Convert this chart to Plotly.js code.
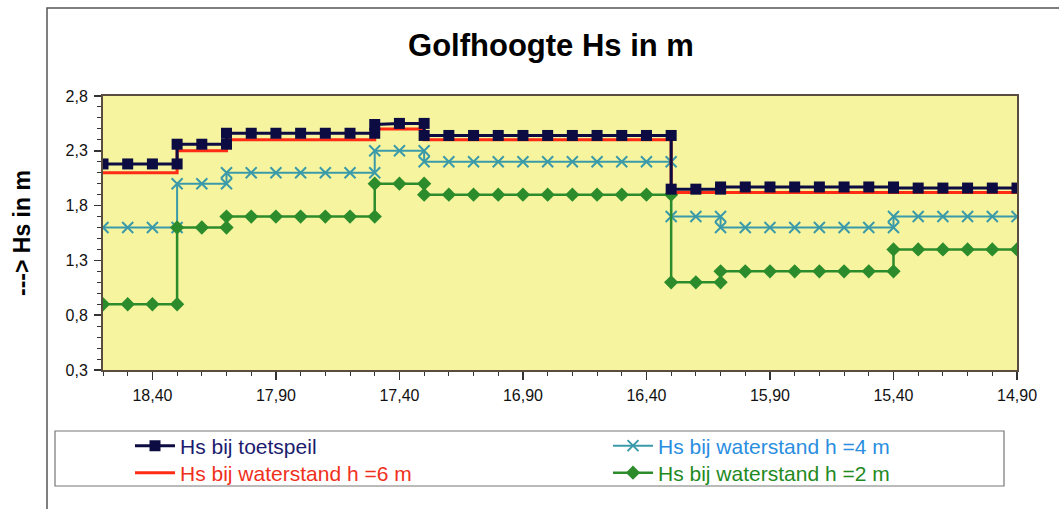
<!DOCTYPE html>
<html><head><meta charset="utf-8">
<script src="https://cdn.plot.ly/plotly-3.0.1.min.js"></script>
<style>html,body{margin:0;padding:0;background:#fff}#chart{width:1059px;height:509px}</style>
</head><body><div id="chart"></div>
<script>
// km positions (steps repeat the km value)
const kilometer = [18.6,18.5,18.4,18.3,18.3,18.2,18.1,18.1,18.0,17.9,17.8,17.7,17.6,17.5,17.5,17.4,17.3,17.3,17.2,17.1,17.0,16.9,16.8,16.7,16.6,16.5,16.4,16.3,16.3,16.2,16.1,16.1,16.0,15.9,15.8,15.7,15.6,15.5,15.4,15.4,15.3,15.2,15.1,15.0,14.9];
const hsToetspeil = [2.18,2.18,2.18,2.18, 2.36,2.36,2.36, 2.46,2.46,2.46,2.46,2.46,2.46,2.46, 2.54,2.55,2.55, 2.44,2.44,2.44,2.44,2.44,2.44,2.44,2.44,2.44,2.44,2.44, 1.95,1.95,1.95, 1.97,1.97,1.97,1.97,1.97,1.97,1.97,1.97, 1.96,1.96,1.96,1.96,1.96,1.96];
const hsH6 = [2.10,2.10,2.10,2.10, 2.30,2.30,2.30, 2.40,2.40,2.40,2.40,2.40,2.40,2.40, 2.50,2.50,2.50, 2.40,2.40,2.40,2.40,2.40,2.40,2.40,2.40,2.40,2.40,2.40, 1.92,1.92,1.92, 1.92,1.92,1.92,1.92,1.92,1.92,1.92,1.92, 1.92,1.92,1.92,1.92,1.92,1.92];
const hsH4 = [1.60,1.60,1.60,1.60, 2.00,2.00,2.00, 2.10,2.10,2.10,2.10,2.10,2.10,2.10, 2.30,2.30,2.30, 2.20,2.20,2.20,2.20,2.20,2.20,2.20,2.20,2.20,2.20,2.20, 1.70,1.70,1.70, 1.60,1.60,1.60,1.60,1.60,1.60,1.60,1.60, 1.70,1.70,1.70,1.70,1.70,1.70];
const hsH2 = [0.90,0.90,0.90,0.90, 1.60,1.60,1.60, 1.70,1.70,1.70,1.70,1.70,1.70,1.70, 2.00,2.00,2.00, 1.90,1.90,1.90,1.90,1.90,1.90,1.90,1.90,1.90,1.90,1.90, 1.10,1.10,1.10, 1.20,1.20,1.20,1.20,1.20,1.20,1.20,1.20, 1.40,1.40,1.40,1.40,1.40,1.40];
const seriesNames = ['Hs bij toetspeil','Hs bij waterstand h =6 m','Hs bij waterstand h =4 m','Hs bij waterstand h =2 m'];
const titleText = 'Golfhoogte Hs in m';
const yTitleText = '---&gt; Hs in m';

const W=1059,H=509,L=103,R=1017,T=96,B=370;
const px = x => (x-L)/(R-L);
const py = y => (B-y)/(B-T);

const cBlack='#0c0c42', cRed='#ff2b14', cTeal='#3a9aaa', cGreen='#2c8c2c';

const traces = [
  {x:kilometer, y:hsH4, name:seriesNames[2], legend:'legend3', mode:'lines+markers',
   line:{color:cTeal,width:2}, marker:{symbol:'x-thin',size:11,line:{color:cTeal,width:2},color:cTeal}},
  {x:kilometer, y:hsH2, name:seriesNames[3], legend:'legend4', mode:'lines+markers',
   line:{color:cGreen,width:2.5}, marker:{symbol:'diamond',size:11,color:cGreen}},
  {x:kilometer, y:hsH6, name:seriesNames[1], legend:'legend2', mode:'lines',
   line:{color:cRed,width:3}},
  {x:kilometer, y:hsToetspeil, name:seriesNames[0], legend:'legend', mode:'lines+markers',
   line:{color:cBlack,width:3}, marker:{symbol:'square',size:11,color:cBlack}}
];

function leg(xp, yp, col){
  return {x:px(xp), y:py(yp), xanchor:'left', yanchor:'middle', bgcolor:'rgba(0,0,0,0)',
    borderwidth:0, font:{size:21,color:col}, itemwidth:40, orientation:'v'};
}

const layout = {
  width:W, height:H,
  margin:{l:L, r:W-R, t:T, b:H-B, pad:0},
  paper_bgcolor:'#ffffff', plot_bgcolor:'#f6f49e',
  separators:',.',
  font:{family:'Liberation Sans, Arial, sans-serif', color:'#111'},
  showlegend:true,
  title:{text:'<b>'+titleText+'</b>', font:{size:31,color:'#000'}, x:551/W, xanchor:'center', y:1-45/H, yanchor:'middle', xref:'container', yref:'container'},
  xaxis:{range:[18.6,14.9], tick0:14.9, dtick:0.5, tickformat:'.2f', ticks:'outside', ticklen:8, tickwidth:1.5, tickcolor:'#333',
    minor:{dtick:0.1, tick0:14.9, ticks:'outside', ticklen:4, tickcolor:'#333', tickwidth:1},
    showline:true, linecolor:'#5a4c3e', linewidth:2, mirror:true, showgrid:false, zeroline:false,
    tickfont:{size:16,color:'#111'}, ticklabelstandoff:2},
  yaxis:{range:[0.3,2.8], tick0:0.3, dtick:0.5, tickformat:'.1f', ticks:'outside', ticklen:7, tickwidth:1.5, tickcolor:'#333',
    minor:{dtick:0.1, tick0:0.3, ticks:'outside', ticklen:4, tickcolor:'#333', tickwidth:1},
    showline:true, linecolor:'#5a4c3e', linewidth:2, mirror:true, showgrid:false, zeroline:false,
    tickfont:{size:16,color:'#111'}, ticklabelstandoff:3},
  legend: leg(130,446,'#1c1c6e'),
  legend2: leg(130,473,'#f0301c'),
  legend3: leg(608,446,'#2a8ee0'),
  legend4: leg(608,473,'#1f8a1f'),
  annotations:[{text:'<b>'+yTitleText+'</b>', textangle:-90, xref:'paper', yref:'paper', x:px(22), y:py(233),
    xanchor:'center', yanchor:'middle', showarrow:false, font:{size:23,color:'#000'}}],
  shapes:[
    {type:'rect', xref:'paper', yref:'paper', x0:px(47), x1:px(1120), y0:py(600), y1:py(8), line:{color:'#555',width:1.5}, layer:'below'},
    {type:'rect', xref:'paper', yref:'paper', x0:px(55), x1:px(1004), y0:py(486), y1:py(431), line:{color:'#777',width:1.2}, layer:'below'}
  ]
};

Plotly.newPlot('chart', traces, layout, {displayModeBar:false, staticPlot:true});
</script>
</body></html>
